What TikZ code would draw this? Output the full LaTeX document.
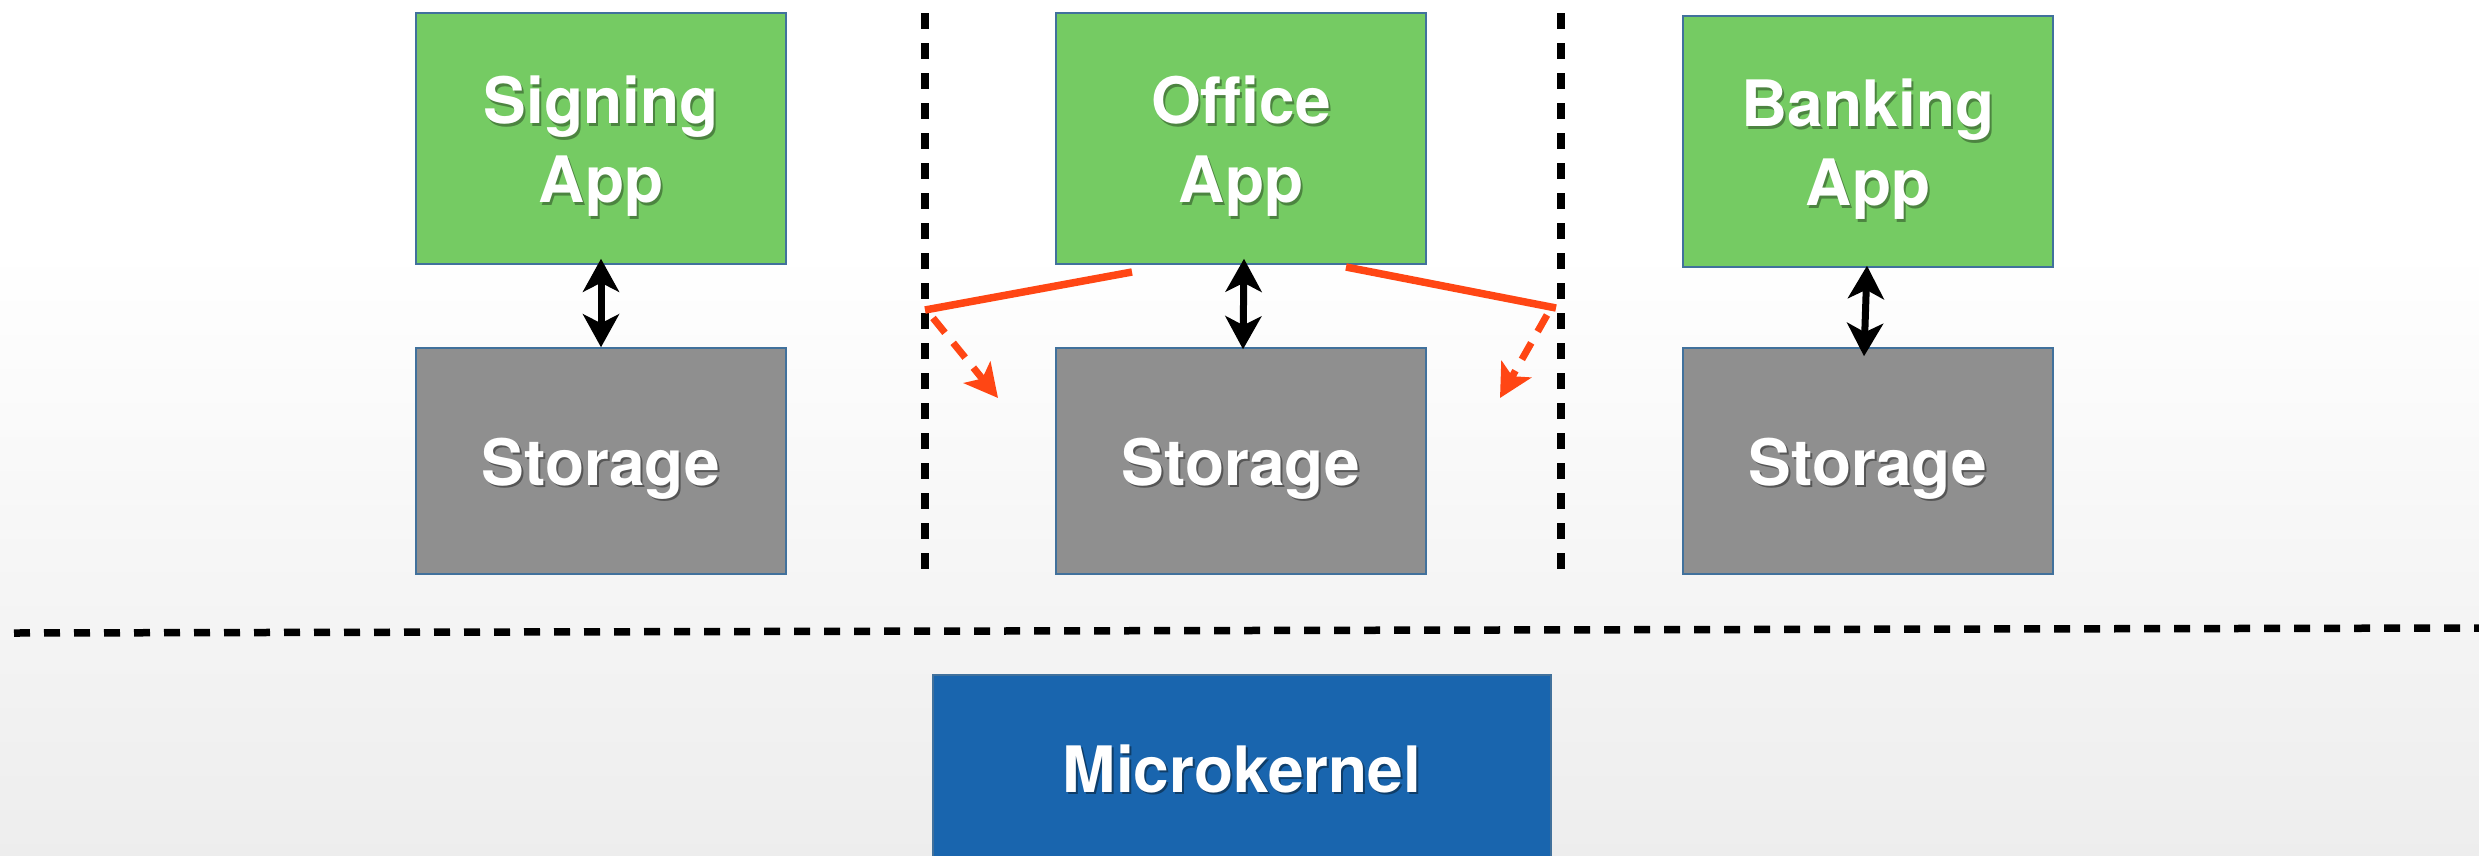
\documentclass[tikz,border=0pt]{standalone}
\usepackage{fontspec}
\setmainfont{TeX Gyre Heros}
\usetikzlibrary{arrows.meta,calc}
\definecolor{appgreen}{RGB}{117,203,99}
\definecolor{storegray}{RGB}{143,143,143}
\definecolor{kernblue}{RGB}{25,101,174}
\definecolor{edgeblue}{RGB}{65,113,156}
\definecolor{redline}{RGB}{255,70,20}
\newcommand\shd[2]{\leavevmode\rlap{\kern2pt\raisebox{-2.5pt}{\textcolor{#1}{#2}}}#2}
\newcommand\lowshd[2]{\raisebox{-9pt}[\height][\depth]{\shd{#1}{#2}}}
\begin{document}
\begin{tikzpicture}[x=1pt,y=-1pt,
  box/.style={draw=edgeblue, line width=1.5pt, inner sep=0pt, text=white,
    font=\fontsize{64}{79}\selectfont\bfseries, align=center},
  appbox/.style={box, fill=appgreen, minimum width=370, minimum height=251},
  storebox/.style={box, fill=storegray, minimum width=370, minimum height=226},
  kernbox/.style={box, fill=kernblue, minimum width=618, minimum height=190},
  sepline/.style={black, line width=7.5pt, dash pattern=on 16pt off 14pt},
  dbl/.style={black, line width=7pt,
    {Stealth[length=33pt,width=36pt,inset=9pt]}-{Stealth[length=33pt,width=36pt,inset=9pt]}},
  redsolid/.style={redline, line width=7.5pt},
  reddash/.style={redline, line width=7pt, dash pattern=on 19pt off 13pt,
    -{Stealth[length=33pt,width=34pt,inset=8pt]}}
]
\useasboundingbox (0,0) rectangle (2479,855);
\fill[white] (0,0) rectangle (2479,855);
\shade[top color=white, bottom color=black!7] (0,250) rectangle (2479,855);

% separators
\coordinate (v1t) at (925,13);  \coordinate (v1b) at (925,574);
\coordinate (v2t) at (1561,13); \coordinate (v2b) at (1561,574);
\coordinate (hl) at (14,633);   \coordinate (hr) at (2479,628);
\draw[sepline] (v1t) -- (v1b);
\draw[sepline] (v2t) -- (v2b);
\draw[sepline] (hl) -- (hr);

% boxes
\node[appbox] (sign) at (601,138.5) {\lowshd{appgreen!65!black}{Signing}\\\lowshd{appgreen!65!black}{App}};
\node[storebox] (st1) at (601,461) {\lowshd{storegray!60!black}{Storage}};
\node[appbox] (office) at (1241,138.5) {\lowshd{appgreen!65!black}{Office}\\\lowshd{appgreen!65!black}{App}};
\node[storebox] (st2) at (1241,461) {\lowshd{storegray!60!black}{Storage}};
\node[appbox] (bank) at (1868,141.5) {\lowshd{appgreen!65!black}{Banking}\\\lowshd{appgreen!65!black}{App}};
\node[storebox] (st3) at (1868,461) {\lowshd{storegray!60!black}{Storage}};
\node[kernbox] (mk) at (1242,770) {\shd{kernblue!60!black}{Microkernel}};

% app <-> storage
\draw[dbl] ($(sign.south)+(0,-6)$) -- (st1.north);
\draw[dbl] ($(office.south)+(3,-6)$) -- ($(st2.north)+(2,2)$);
\draw[dbl] ($(bank.south)+(-1,-2)$) -- ($(st3.north)+(-4,9)$);

% red attempts
\coordinate (r1a) at (1132,272); \coordinate (r1b) at (925,310);
\coordinate (r1c) at (933,318);  \coordinate (r1d) at (998,398);
\coordinate (r2a) at (1346,267); \coordinate (r2b) at (1556,308);
\coordinate (r2c) at (1547,315); \coordinate (r2d) at (1500,398);
\draw[redsolid] (r1a) -- (r1b);
\draw[reddash] (r1c) -- (r1d);
\draw[redsolid] (r2a) -- (r2b);
\draw[reddash] (r2c) -- (r2d);
\end{tikzpicture}
\end{document}
